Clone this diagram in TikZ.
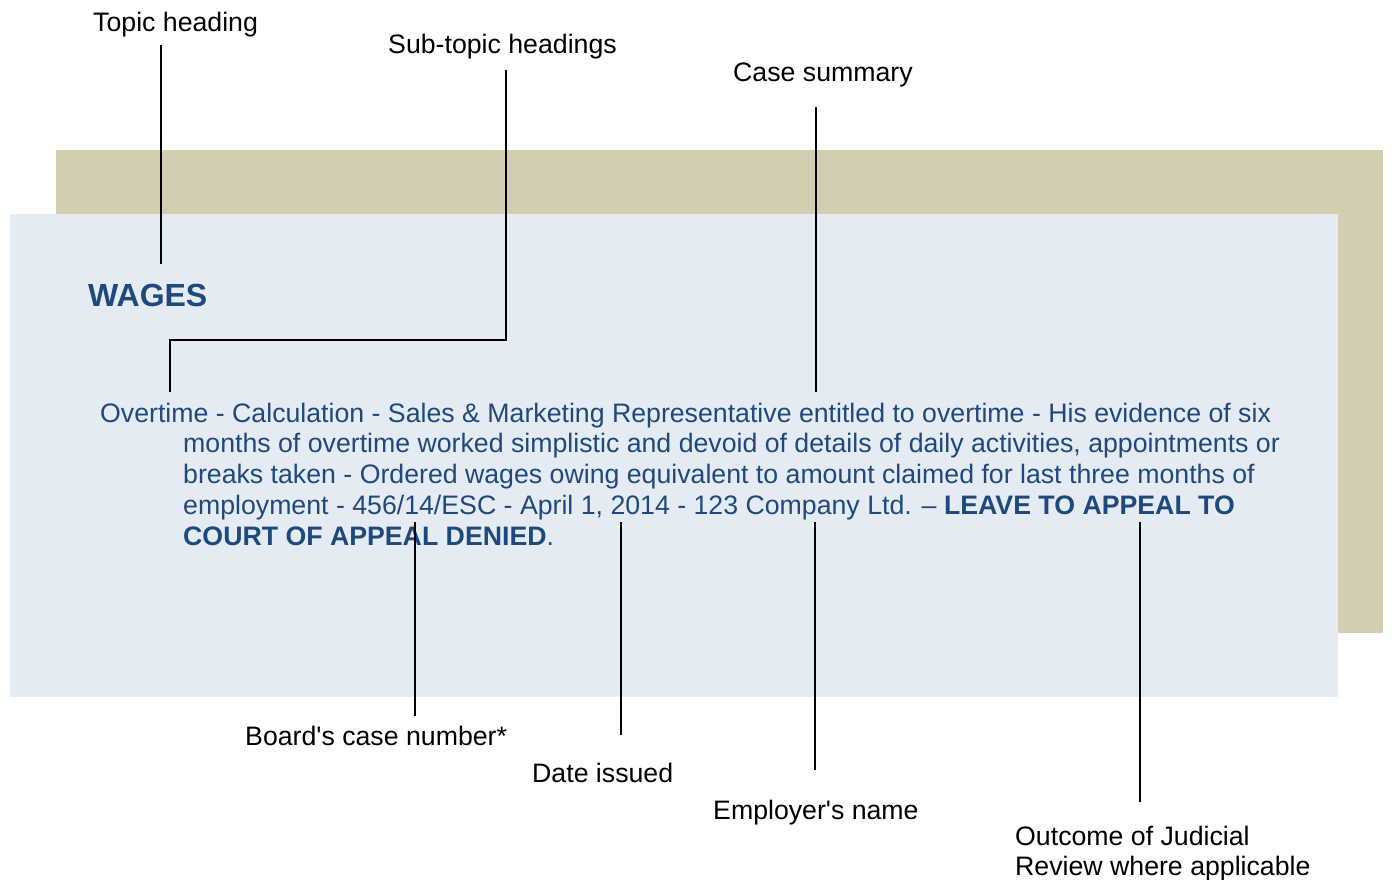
\documentclass[tikz,border=0pt]{standalone}
\usepackage{fontspec}
\setmainfont{Liberation Sans}
\usetikzlibrary{positioning}
\definecolor{tanbox}{RGB}{211,206,177}
\definecolor{bluebox}{RGB}{228,235,243}
\definecolor{navy}{RGB}{31,73,125}

\begin{document}
\begin{tikzpicture}[
    x=1pt, y=-1pt,
    lbl/.style={anchor=base west, inner sep=0pt, align=left,
      font=\fontsize{26.7}{30}\selectfont},
    body/.style={anchor=base west, inner sep=0pt, align=left, text=navy,
      font=\fontsize{26.7}{30.75}\selectfont},
    lead/.style={line width=2pt}
  ]
  \useasboundingbox (0,0) rectangle (1395,879);
  % the two panels
  \fill[tanbox] (56,150) rectangle (1383,633);
  \fill[bluebox] (10,214) rectangle (1338,697);

  % entry text (base of a multi-line node is its last line)
  \node[body, font=\fontsize{32}{38}\selectfont\bfseries] (wages) at (88,306) {WAGES};
  \node[body] (first) at (100,422) {Overtime - Calculation - Sales \& Marketing Representative entitled to overtime - His evidence of six};
  \node[body] (rest) at (183,545) {months of overtime worked simplistic and devoid of details of daily activities, appointments or\\
    breaks taken - Ordered wages owing equivalent to amount claimed for last three months of\\
    employment - 456/14/ESC - April 1, 2014 - 123 Company Ltd. -- \textbf{LEAVE TO APPEAL TO}\\
    \textbf{COURT OF APPEAL DENIED}.};

  % labels
  \node[lbl] (topic) at (93,31) {Topic heading};
  \node[lbl] (subtopic) at (388,53) {Sub-topic headings};
  \node[lbl] (summary) at (733,81) {Case summary};
  \node[lbl] (casenum) at (245,745) {Board\textquotesingle s case number*};
  \node[lbl] (date) at (532,782) {Date issued};
  \node[lbl] (employer) at (713,819) {Employer\textquotesingle s name};
  \node[lbl] (outcome) at (1015,875) {Outcome of Judicial\\Review where applicable};

  % leader lines
  \coordinate (t1) at (161,45);   \coordinate (t2) at (161,264);
  \coordinate (s1) at (506,70);   \coordinate (s2) at (170,392);
  \coordinate (c1) at (816,107);  \coordinate (c2) at (816,392);
  \coordinate (n1) at (415,522);  \coordinate (n2) at (415,716);
  \coordinate (d1) at (621,522);  \coordinate (d2) at (621,735);
  \coordinate (e1) at (815,522);  \coordinate (e2) at (815,770);
  \coordinate (o1) at (1140,522); \coordinate (o2) at (1140,802);
  \draw[lead] (t1) -- (t2);
  \draw[lead] (s1) |- (170,340) -- (s2);
  \draw[lead] (c1) -- (c2);
  \draw[lead] (n1) -- (n2);
  \draw[lead] (d1) -- (d2);
  \draw[lead] (e1) -- (e2);
  \draw[lead] (o1) -- (o2);
\end{tikzpicture}
\end{document}
